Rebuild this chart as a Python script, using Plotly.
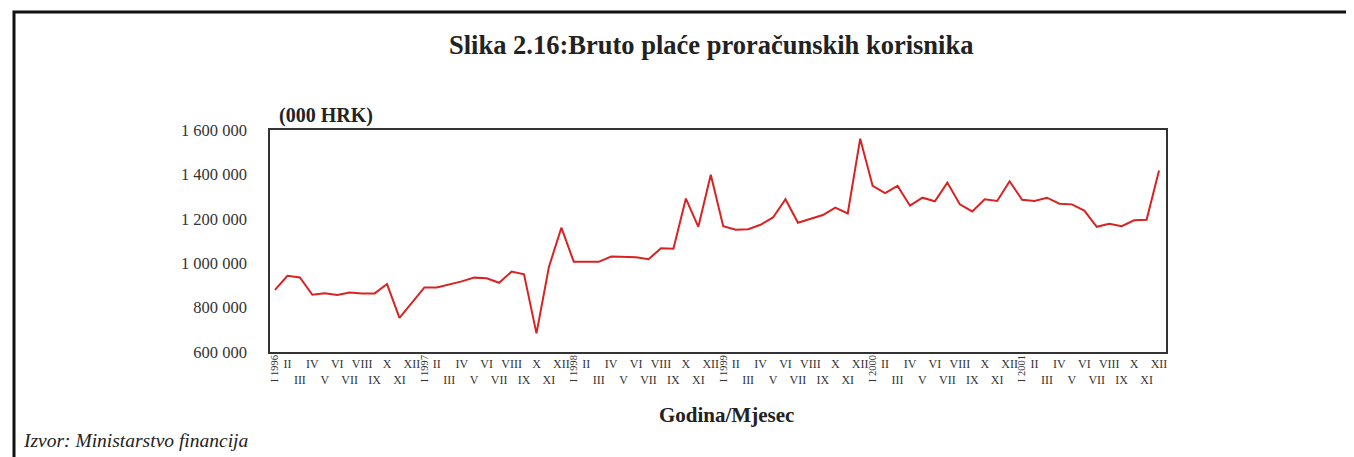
import plotly.graph_objects as go

years = ["1996", "1997", "1998", "1999", "2000", "2001"]
months = ["I", "II", "III", "IV", "V", "VI", "VII", "VIII", "IX", "X", "XI", "XII"]

values = [
    # 1996
    880000, 943000, 936000, 858000, 865000, 857000, 868000, 864000, 864000, 906000, 754000, 822000,
    # 1997
    891000, 891000, 904000, 918000, 935000, 932000, 912000, 962000, 950000, 684000, 983000, 1160000,
    # 1998
    1006000, 1006000, 1006000, 1030000, 1027000, 1027000, 1018000, 1067000, 1065000, 1291000, 1164000, 1398000,
    # 1999
    1167000, 1151000, 1153000, 1173000, 1206000, 1288000, 1182000, 1199000, 1217000, 1250000, 1224000, 1561000,
    # 2000
    1348000, 1316000, 1348000, 1259000, 1295000, 1279000, 1363000, 1265000, 1233000, 1288000, 1280000, 1369000,
    # 2001
    1286000, 1280000, 1295000, 1268000, 1265000, 1237000, 1164000, 1178000, 1167000, 1193000, 1196000, 1418000,
]

y_ticks = [600000, 800000, 1000000, 1200000, 1400000, 1600000]
y_ticktext = ["600 000", "800 000", "1 000 000", "1 200 000", "1 400 000", "1 600 000"]

title_text = "Slika 2.16:Bruto plaće proračunskih korisnika"
unit_text = "(000 HRK)"
xaxis_title = "Godina/Mjesec"
source_text = "Izvor: Ministarstvo financija"

n = len(values)
x = list(range(n))

# month tick labels: even months on upper row, odd on lower; January shown on year axis
month_text = []
for i in range(n):
    m = i % 12
    if m == 0:
        month_text.append("")
    elif m % 2 == 1:
        month_text.append(months[m])
    else:
        month_text.append("<br>" + months[m])

year_vals = [i * 12 for i in range(len(years))]
year_text = ["I " + y for y in years]

SERIF = "Liberation Serif, Times New Roman, serif"
OFF = 8  # page body margin
W, H = 1354 - OFF, 457 - OFF
L, R, T, B = 270 - OFF, 1166 - OFF, 130 - OFF, 352 - OFF

fig = go.Figure()
fig.add_trace(go.Scatter(x=x, y=values, mode="lines",
                         line=dict(color="#d92222", width=2), showlegend=False,
                         hoverinfo="x+y"))
# invisible trace for year axis
fig.add_trace(go.Scatter(x=x, y=values, mode="lines", xaxis="x2",
                         line=dict(width=0), opacity=0, showlegend=False, hoverinfo="skip"))

xr = [-0.4, n - 1 + 0.56]
fig.update_layout(
    width=W, height=H,
    margin=dict(l=L, r=W - R, t=T, b=H - B, pad=0),
    paper_bgcolor="white", plot_bgcolor="white",
    font=dict(family=SERIF, color="#333333"),
    xaxis=dict(range=xr, tickmode="array", tickvals=x, ticktext=month_text,
               tickangle=0, ticks="", showgrid=False, zeroline=False,
               showline=True, linecolor="#333333", linewidth=1.5, mirror=True,
               tickfont=dict(size=12, family=SERIF, color="#333333")),
    xaxis2=dict(range=xr, overlaying="x", side="bottom", anchor="y",
                tickmode="array", tickvals=year_vals, ticktext=year_text,
                tickangle=-90, ticks="", showgrid=False, zeroline=False, showline=False,
                tickfont=dict(size=10.5, family=SERIF, color="#333333")),
    yaxis=dict(range=[600000, 1600000], tickmode="array", tickvals=y_ticks,
               ticktext=y_ticktext, ticks="", showgrid=False, zeroline=False,
               showline=True, linecolor="#333333", linewidth=1.5, mirror=True,
               ticklabelstandoff=18,
               tickfont=dict(size=16.5, family=SERIF, color="#333333")),
)

pw, ph = R - L, B - T
def px(xp):
    return (xp - OFF - L) / pw
def py(yp):
    return (B - (yp - OFF)) / ph

fig.add_shape(type="path",
              path=f"M {px(14)} {py(470)} L {px(14)} {py(12)} L {px(1370)} {py(12)}",
              xref="paper", yref="paper", line=dict(color="#111111", width=3))

fig.add_annotation(text=f"<b>{title_text}</b>", xref="paper", yref="paper",
                   x=px(711), y=py(45), xanchor="center", yanchor="middle",
                   showarrow=False, font=dict(size=26.5, family=SERIF, color="#222222"))
fig.add_annotation(text=f"<b>{unit_text}</b>", xref="paper", yref="paper",
                   x=px(277), y=py(115), xanchor="left", yanchor="middle",
                   showarrow=False, font=dict(size=20, family=SERIF, color="#222222"))
fig.add_annotation(text=f"<b>{xaxis_title}</b>", xref="paper", yref="paper",
                   x=px(726), y=py(415), xanchor="center", yanchor="middle",
                   showarrow=False, font=dict(size=21, family=SERIF, color="#222222"))
fig.add_annotation(text=f"<i>{source_text}</i>", xref="paper", yref="paper",
                   x=px(21), y=py(440), xanchor="left", yanchor="middle",
                   showarrow=False, font=dict(size=19.5, family=SERIF, color="#222222"))

fig.write_html("out.html")
